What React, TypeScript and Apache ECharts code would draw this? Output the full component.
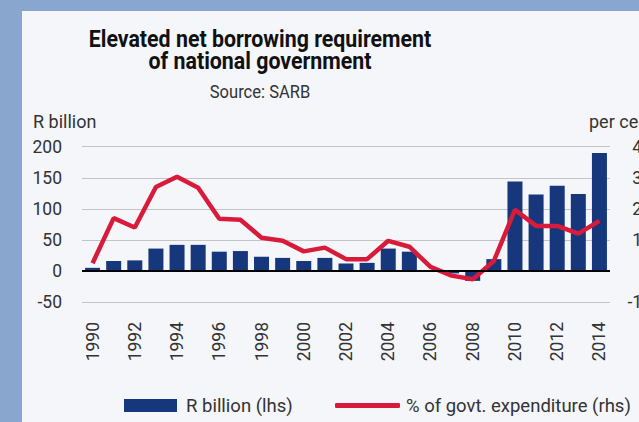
import React, { useEffect, useRef } from 'react';
import * as echarts from 'echarts';

const years = [
  '1990', '1991', '1992', '1993', '1994', '1995', '1996', '1997', '1998', '1999',
  '2000', '2001', '2002', '2003', '2004', '2005', '2006', '2007', '2008', '2009',
  '2010', '2011', '2012', '2013', '2014',
];

// Net borrowing requirement, R billion (left axis)
const rBillion = [
  5, 16, 17, 36, 42, 42, 31, 32, 23, 21,
  16, 21, 12, 13, 36, 31, 0, -4, -16, 19,
  144, 123, 137, 124, 190,
];

// Net borrowing requirement, % of government expenditure (right axis)
const pctExpenditure = [
  2.5, 17, 14, 27, 30.3, 26.8, 16.8, 16.5, 10.7, 9.7,
  6.3, 7.5, 3.8, 3.8, 9.7, 7.8, 1.3, -1.5, -2.7, 3.2,
  19.7, 14.5, 14.5, 12, 16.1,
];

const titleLines = ['Elevated net borrowing requirement', 'of national government'];
const sourceText = 'Source: SARB';
const leftAxisName = 'R billion';
const rightAxisName = 'per cent';
const barName = 'R billion (lhs)';
const lineName = '% of govt. expenditure (rhs)';

const NAVY = '#17377c';
const RED = '#d91b3b';
const TEXT = '#333333';
const NUM_FONT = 'Roboto, "Noto Sans", sans-serif';

export default function App() {
  const ref = useRef<HTMLDivElement>(null);

  useEffect(() => {
    if (!ref.current) return;
    const chart = echarts.init(ref.current, null, { renderer: 'svg' });
    chart.setOption({
      animation: false,
      backgroundColor: '#89a6ce',
      graphic: [
        {
          type: 'rect',
          z: -10,
          silent: true,
          shape: { x: 22, y: 11, width: 700, height: 500 },
          style: { fill: '#f4f6fa' },
        },
        {
          type: 'text',
          x: 260,
          y: 50,
          scaleX: 0.89,
          style: {
            text: titleLines.join('\n'),
            font: `bold 24px ${NUM_FONT}`,
            lineHeight: 22,
            fill: '#111111',
            align: 'center',
            verticalAlign: 'middle',
          },
        },
        {
          type: 'text',
          x: 260,
          y: 92,
          scaleX: 0.92,
          style: {
            text: sourceText,
            font: `18px ${NUM_FONT}`,
            fill: TEXT,
            align: 'center',
            verticalAlign: 'middle',
          },
        },
        {
          type: 'text',
          x: 33,
          y: 121,
          style: {
            text: leftAxisName,
            font: `18px ${NUM_FONT}`,
            fill: TEXT,
            align: 'left',
            verticalAlign: 'middle',
          },
        },
        {
          type: 'text',
          x: 589,
          y: 121,
          style: {
            text: rightAxisName,
            font: `18px ${NUM_FONT}`,
            fill: TEXT,
            align: 'left',
            verticalAlign: 'middle',
          },
        },
      ],
      grid: {
        left: 82,
        right: 29,
        top: 146.7,
        bottom: 120,
        containLabel: false,
        outerBoundsMode: 'none',
      },
      xAxis: {
        type: 'category',
        data: years,
        axisLine: { show: false },
        axisTick: { show: false },
        axisLabel: {
          interval: 1,
          rotate: 90,
          margin: 20,
          fontSize: 17.5,
          color: TEXT,
          fontFamily: NUM_FONT,
        },
      },
      yAxis: [
        {
          type: 'value',
          min: -50,
          max: 200,
          interval: 50,
          axisLine: { show: false },
          axisTick: { show: false },
          axisLabel: { margin: 20, fontSize: 17.5, color: TEXT, fontFamily: NUM_FONT },
          splitLine: { lineStyle: { color: '#c4c4c4', width: 1.2 } },
        },
        {
          type: 'value',
          position: 'right',
          min: -10,
          max: 40,
          interval: 10,
          axisLine: { show: false },
          axisTick: { show: false },
          splitLine: { show: false },
          axisLabel: {
            margin: 42,
            align: 'right',
            fontSize: 17.5,
            color: TEXT,
            fontFamily: NUM_FONT,
          },
        },
      ],
      legend: [
        {
          data: [barName],
          left: 119,
          top: 391,
          itemWidth: 53,
          itemHeight: 13,
          icon: 'rect',
          textStyle: { fontSize: 18.5, color: TEXT, fontFamily: NUM_FONT, padding: [0, 0, 0, 4] },
        },
        {
          data: [{ name: lineName, icon: 'roundRect' }],
          left: 330,
          top: 391,
          itemWidth: 65,
          itemHeight: 5,
          textStyle: { fontSize: 18.5, color: TEXT, fontFamily: NUM_FONT, padding: [0, 0, 0, 1] },
        },
      ],
      series: [
        {
          type: 'bar',
          name: barName,
          data: rBillion,
          barWidth: 15,
          itemStyle: { color: NAVY },
          markLine: {
            silent: true,
            symbol: 'none',
            label: { show: false },
            lineStyle: { color: '#000000', width: 2.2, type: 'solid' },
            data: [{ yAxis: 0 }],
          },
        },
        {
          type: 'line',
          name: lineName,
          yAxisIndex: 1,
          data: pctExpenditure,
          symbol: 'none',
          lineStyle: { color: RED, width: 4.5 },
          itemStyle: { color: RED },
        },
      ],
    });
    return () => chart.dispose();
  }, []);

  return (
    <div
      ref={ref}
      style={{ position: 'fixed', left: 0, top: 0, width: 639, height: 422 }}
    />
  );
}
